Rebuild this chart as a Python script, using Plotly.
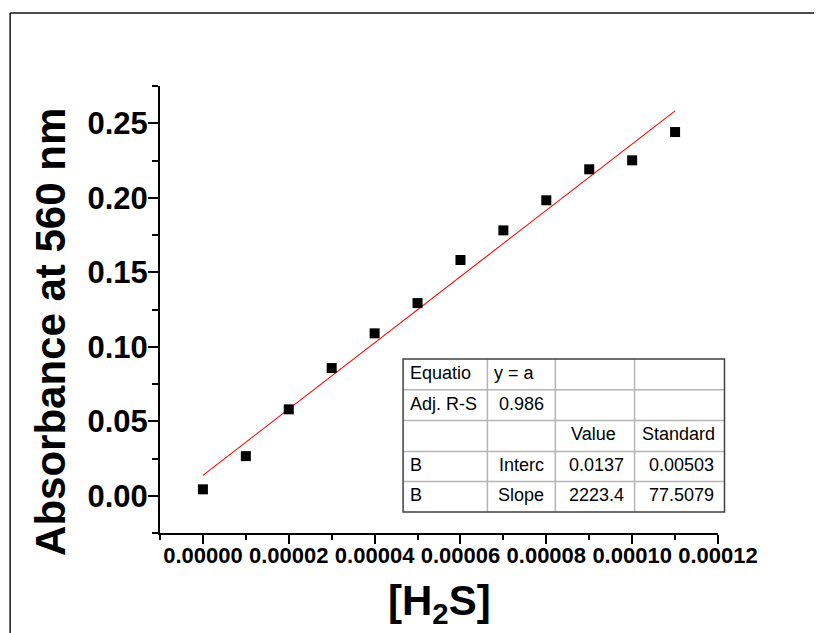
import plotly.graph_objects as go

# ---- data ----
h2s = [0.0, 1e-5, 2e-5, 3e-5, 4e-5, 5e-5, 6e-5, 7e-5, 8e-5, 9e-5, 1.0e-4, 1.1e-4]
absorbance = [0.0043, 0.0266, 0.0580, 0.0857, 0.1090, 0.1293, 0.1582, 0.1781,
              0.1983, 0.2191, 0.2251, 0.2441]
fit_intercept = 0.0137
fit_slope = 2223.4
fit_x = [0.0, 1.1e-4]
fit_y = [fit_intercept + fit_slope * v for v in fit_x]

table_col1 = ["Equatio", "Adj. R-S", "", "B", "B"]
table_col2 = ["y = a", "0.986", "", "Interc", "Slope"]
table_col3 = ["", "", "Value", "0.0137", "2223.4"]
table_col4 = ["", "", "Standard", "0.00503", "77.5079"]

x_title = "[H<sub>2</sub>S]"
y_title = "Absorbance at 560 nm"

# ---- layout geometry (reference-page pixels; the page body adds an 8px offset) ----
OFF = 8
W, H = 822 - OFF, 633 - OFF
PL, PR, PT, PB = 160.0, 718.5, 86.0, 533.3      # plot area in page pixels
PW, PH = PR - PL, PB - PT
L, T = PL - OFF, PT - OFF
R, B = W - L - PW, H - T - PH


def px(X):
    return (X - PL) / PW


def py(Y):
    return (PB - Y) / PH


FONT = "Liberation Sans, Arial, sans-serif"

fig = go.Figure()
fig.add_trace(go.Scatter(x=fit_x, y=fit_y, mode="lines",
                         line=dict(color="#ff0000", width=1.1),
                         showlegend=False, hoverinfo="skip"))
fig.add_trace(go.Scatter(x=h2s, y=absorbance, mode="markers",
                         marker=dict(symbol="square", size=10, color="black",
                                     line=dict(width=0)),
                         showlegend=False))

axis_common = dict(showgrid=False, zeroline=False, showline=True, linecolor="black",
                   linewidth=2, ticks="outside", tickcolor="black", tickwidth=1.5,
                   mirror=False)

fig.update_xaxes(range=[-1e-5, 1.2e-4], dtick=2e-5, tick0=0, tickformat=".5f",
                 ticklen=9, ticklabelstandoff=-7,
                 tickfont=dict(family=FONT, size=22, color="black", weight="bold"),
                 minor=dict(dtick=1e-5, tick0=0, ticks="outside", ticklen=5,
                            tickwidth=1.5, tickcolor="black", showgrid=False),
                 **axis_common)
fig.update_yaxes(range=[-0.025, 0.275], dtick=0.05, tick0=0, tickformat=".2f",
                 ticklen=10, ticklabelstandoff=-6,
                 tickfont=dict(family=FONT, size=31, color="black", weight="bold"),
                 minor=dict(dtick=0.025, tick0=0, ticks="outside", ticklen=6,
                            tickwidth=1.5, tickcolor="black", showgrid=False),
                 **axis_common)

shapes = []
annotations = []

# outer frame (left and top edges)
shapes.append(dict(type="line", xref="paper", yref="paper",
                   x0=px(10), y0=py(660), x1=px(10), y1=py(13),
                   line=dict(color="#111111", width=1.5)))
shapes.append(dict(type="line", xref="paper", yref="paper",
                   x0=px(10), y0=py(13), x1=px(850), y1=py(13),
                   line=dict(color="#111111", width=1.5)))

# axis titles
annotations.append(dict(text=y_title, xref="paper", yref="paper",
                        x=px(51), y=py(332), textangle=-90, showarrow=False,
                        xanchor="center", yanchor="middle",
                        font=dict(family=FONT, size=42, color="black", weight="bold")))
annotations.append(dict(text=x_title, xref="paper", yref="paper",
                        x=px(440), y=py(604), showarrow=False,
                        xanchor="center", yanchor="middle",
                        font=dict(family=FONT, size=42, color="black", weight="bold")))

# fit-result table
cols = [403.3, 487.7, 555.7, 635.0, 725.0]
rows = [359.3, 390.0, 420.7, 451.7, 481.7, 512.3]
for X in cols[1:-1]:
    shapes.append(dict(type="line", xref="paper", yref="paper",
                       x0=px(X), x1=px(X), y0=py(rows[0]), y1=py(rows[-1]),
                       line=dict(color="#b4b4b4", width=1.5)))
for Y in rows[1:-1]:
    shapes.append(dict(type="line", xref="paper", yref="paper",
                       x0=px(cols[0]), x1=px(cols[-1]), y0=py(Y), y1=py(Y),
                       line=dict(color="#b4b4b4", width=1.5)))
shapes.append(dict(type="rect", xref="paper", yref="paper",
                   x0=px(cols[0]), x1=px(cols[-1]), y0=py(rows[-1]), y1=py(rows[0]),
                   line=dict(color="#404040", width=1.5), fillcolor="rgba(0,0,0,0)"))

table_cols = [table_col1, table_col2, table_col3, table_col4]
for r in range(5):
    yc = (rows[r] + rows[r + 1]) / 2 - 1.5
    for c in range(4):
        txt = table_cols[c][r]
        if not txt:
            continue
        if c == 0 or (c == 1 and r == 0):
            xa, X = "left", cols[c] + 5
        elif r == 2:
            xa, X = "center", (cols[c] + cols[c + 1]) / 2 - 1
        else:
            xa, X = "right", cols[c + 1] - 9
        annotations.append(dict(text=txt, xref="paper", yref="paper", x=px(X), y=py(yc),
                                xanchor=xa, yanchor="middle", showarrow=False,
                                font=dict(family=FONT, size=18, color="black")))

fig.update_layout(width=W, height=H, margin=dict(l=L, r=R, t=T, b=B, pad=0),
                  plot_bgcolor="white", paper_bgcolor="white",
                  shapes=shapes, annotations=annotations, showlegend=False)

fig.write_html("out.html")
